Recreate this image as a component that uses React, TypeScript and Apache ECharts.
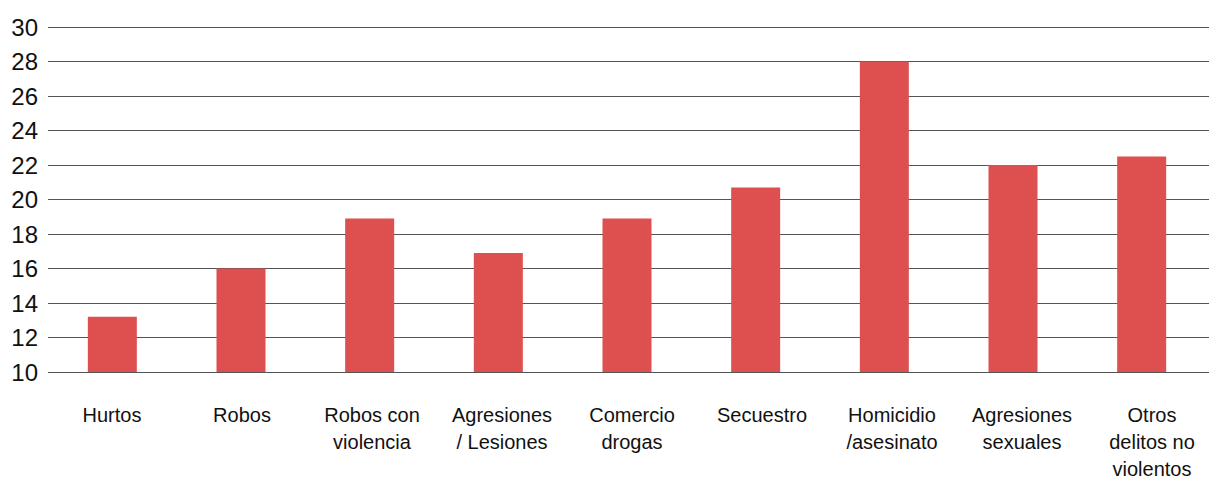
import React, { useEffect, useRef } from "react";
import * as echarts from "echarts";

const categories = [
  "Hurtos",
  "Robos",
  "Robos con\nviolencia",
  "Agresiones\n/ Lesiones",
  "Comercio\ndrogas",
  "Secuestro",
  "Homicidio\n/asesinato",
  "Agresiones\nsexuales",
  "Otros\ndelitos no\nviolentos",
];
const values = [13.2, 16.0, 18.9, 16.9, 18.9, 20.7, 28.0, 22.0, 22.5];
const yMin = 10;
const yMax = 30;
const yStep = 2;

export default function App() {
  const ref = useRef<HTMLDivElement>(null);
  useEffect(() => {
    if (!ref.current) return;
    const chart = echarts.init(ref.current, undefined, { renderer: "svg" });
    const font = "'Liberation Sans', Arial, Helvetica, sans-serif";
    const gridBase = { top: 27, bottom: 110, containLabel: false, outerBoundsMode: "none" };
    chart.setOption({
      animation: false,
      grid: [
        { ...gridBase, left: 48, right: 0 },
        { ...gridBase, left: 48, right: 3 },
        { ...gridBase, left: 47, right: -8 },
      ],
      xAxis: [
        { type: "category", gridIndex: 0, data: categories, show: false },
        {
          type: "category",
          gridIndex: 1,
          data: categories,
          axisTick: { show: false },
          axisLine: { show: false },
          axisLabel: { show: false },
        },
        {
          type: "category",
          gridIndex: 2,
          data: categories,
          axisTick: { show: false },
          axisLine: { show: false },
          axisLabel: {
            interval: 0,
            color: "#111",
            fontFamily: font,
            fontSize: 20,
            lineHeight: 27,
            margin: 29,
          },
        },
      ],
      yAxis: [
        {
          type: "value",
          gridIndex: 0,
          min: yMin,
          max: yMax,
          interval: yStep,
          axisLine: { show: false },
          axisTick: { show: false },
          splitLine: { show: true, lineStyle: { color: "#555", width: 1 } },
          axisLabel: { color: "#111", fontFamily: font, fontSize: 24, margin: 10 },
        },
        { type: "value", gridIndex: 1, min: yMin, max: yMax, interval: yStep, show: false, splitLine: { show: false } },
        { type: "value", gridIndex: 2, min: yMin, max: yMax, interval: yStep, show: false, splitLine: { show: false } },
      ],
      series: [
        {
          type: "bar",
          xAxisIndex: 1,
          yAxisIndex: 1,
          data: values,
          barWidth: 49,
          itemStyle: { color: "#de4f4f" },
        },
      ],
    });
    return () => chart.dispose();
  }, []);
  return (
    <div
      ref={ref}
      style={{ position: "absolute", left: 0, top: 0, width: 1209, height: 482, background: "#fff" }}
    />
  );
}
